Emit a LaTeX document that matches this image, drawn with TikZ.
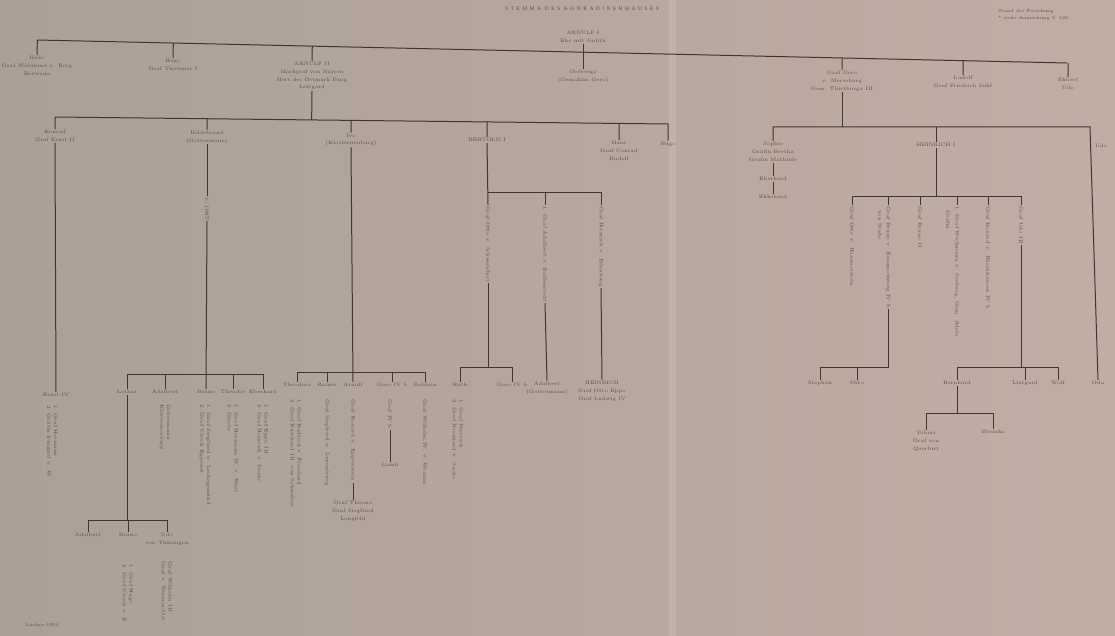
\documentclass[tikz,border=0pt]{standalone}
\usepackage{fontspec}
\usetikzlibrary{calc}
\newfontfamily\titlefont[LetterSpace=45]{Liberation Serif}
\definecolor{paperleft}{RGB}{170,160,150}
\definecolor{paperright}{RGB}{194,173,165}
\definecolor{ink}{RGB}{66,52,46}
\definecolor{inktext}{RGB}{92,78,72}
\tikzset{
  lbl/.style={inner sep=1pt, align=center, text=inktext,
    font=\fontsize{5}{7.8}\selectfont},
  vt/.style={inner sep=1pt, rotate=-90, anchor=west, align=left, text=inktext,
    font=\fontsize{5}{6.8}\selectfont},
  stem/.style={draw=ink, line width=1pt},
}
\begin{document}
\begin{tikzpicture}[x=1pt,y=-1pt]
  \useasboundingbox (0,0) rectangle (1115,636);
  % paper
  \shade[left color=paperleft, right color=paperright] (0,0) rectangle (1115,636);
  \fill[white, opacity=.12] (669,0) rectangle (676,636);
  % heading
  \node[lbl, font=\titlefont\fontsize{5.5}{8}\selectfont] (title) at (582,9) {STEMMA DES KONRADINERHAUSES};
  \node[lbl, align=left, anchor=west, font=\fontsize{4.5}{7.5}\selectfont] (note) at (997,15) {Stand der Forschung\\* siehe Anmerkung S. 126};
  \node[lbl] (root) at (583,37) {ARNULF I\\Ehe mit Judith};
  % first generation
  \coordinate (tl) at (37,40);
  \coordinate (tr) at (1067,63);
  \node[lbl] (hedo) at (37,66) {Hedo\\Graf Widukind v. Berg\\Bertrada};
  \node[lbl] (hugo) at (173,65) {Hugo\\Graf Thietmar I};
  \node[lbl] (arnulf) at (312,76) {ARNULF II\\Markgraf von Bayern\\Herr der Ostmark Burg\\Liutgard};
  \node[lbl] (heinrich) at (583,76) {Gerberga\\(Gemahlin Gero)};
  \node[lbl] (gero) at (842,81) {Graf Gero\\v. Merseburg\\Gem. Thietburga III};
  \node[lbl] (ludolf) at (963,82) {Ludolf\\Graf Friedrich Suhl};
  \node[lbl] (ekbert) at (1068,84) {Ekbert\\Udo};
  \draw[stem] (tl) -- (tr);
  \draw[stem] (root.south) -- (heinrich.north);
  \foreach \n in {hedo,hugo,arnulf,gero,ludolf,ekbert}
    \draw[stem] (\n.north) -- ($(tl)!(\n.north)!(tr)$);
  % children of Arnulf II
  \coordinate (sl) at (55,117);
  \coordinate (sr) at (668,124);
  \node[lbl] (konrad) at (55,136) {Konrad\\Graf Ernst II};
  \node[lbl] (hildebrand) at (207,137) {Hildebrand\\(Gottesmann)};
  \node[lbl] (ivo) at (351,140) {Ivo\\(Klosterneuburg)};
  \node[lbl] (bertold) at (487,140) {BERTOLD I};
  \node[lbl] (hans) at (619,151) {Hans\\Graf Conrad\\Rudolf};
  \node[lbl] (hugob) at (668,144) {Hugo};
  \draw[stem] (sl) -- (sr);
  \draw[stem] (arnulf.south) -- ($(sl)!(arnulf.south)!(sr)$);
  \foreach \n in {konrad,hildebrand,ivo,bertold,hans,hugob}
    \draw[stem] (\n.north) -- ($(sl)!(\n.north)!(sr)$);
  % line of Konrad
  \node[lbl] (ernst) at (56,395) {Ernst IV};
  \node[vt] (ernstvt) at (52,404) {1. Graf Hermann\\2. Gräfin Irmgard v. W.};
  \draw[stem] (konrad.south) -- (ernst.north);
  % line of Hildebrand
  \node[vt, fill=paperleft] (hdate) at (207,196) {v. 1087};
  \coordinate (hb) at (207,374);
  \node[lbl] (lothar) at (127,392) {Lothar};
  \node[lbl] (adalbert) at (165,392) {Adalbert};
  \node[lbl] (bruno) at (206,392) {Bruno};
  \node[lbl] (theodor) at (233,392) {Theodor};
  \node[lbl] (eberhard) at (263,392) {Eberhard};
  \draw[stem] (hildebrand.south) -- (hdate.west);
  \draw[stem] (hdate.east) -- (bruno.north);
  \draw[stem] (lothar.north) -- (lothar.north |- hb) -- (eberhard.north |- hb) -- (eberhard.north);
  \foreach \n in {adalbert,theodor}
    \draw[stem] (\n.north) -- (\n.north |- hb);
  \node[vt] at (165,403) {Gottesmann\\Klosterneuburg};
  \node[vt] at (205,403) {1. Graf Siegfried v. Lechsgemünd\\2. Graf Ulrich Eppenst.};
  \node[vt] at (233,403) {1. Graf Hermann IV. v. Werl\\2. Gisela};
  \node[vt] at (263,403) {1. Graf Eppo III\\2. Graf Heinrich v. Stade};
  % grandchildren of Hildebrand
  \coordinate (lb) at (127,520);
  \node[lbl] (adalbertb) at (88,535) {Adalbert};
  \node[lbl] (brunob) at (128,535) {Bruno};
  \node[lbl] (udo) at (167,539) {Udo\\von Thüringen};
  \draw[stem] (lothar.south) -- (lb);
  \draw[stem] (adalbertb.north) -- (adalbertb.north |- lb) -- (udo.north |- lb) -- (udo.north);
  \draw[stem] (brunob.north) -- (brunob.north |- lb);
  \node[vt] at (128,563) {1. Graf Hugo\\2. Graf Ulrich v. E.};
  \node[vt] at (167,560) {Graf Wilhelm III\\Graf v. Weimar-Orl.};
  \node[lbl, font=\fontsize{4.5}{6}\selectfont] (place) at (42,625) {Lindau 1954};
  % line of Ivo
  \coordinate (ib) at (351,372);
  \node[lbl] (theodora) at (297,385) {Theodora};
  \node[lbl] (rainer) at (327,385) {Rainer};
  \node[lbl] (arnulfb) at (353,385) {Arnulf};
  \node[lbl] (gerhard) at (392,385) {Gero IV b};
  \node[lbl] (balduin) at (425,385) {Balduin};
  \draw[stem] (ivo.south) -- (arnulfb.north);
  \draw[stem] (theodora.north) -- (theodora.north |- ib) -- (balduin.north |- ib) -- (balduin.north);
  \foreach \n in {rainer,gerhard}
    \draw[stem] (\n.north) -- (\n.north |- ib);
  \node[vt] at (296,398) {1. Graf Radbod v. Friesland\\2. Graf Burchard III. von Schwaben};
  \node[vt] at (327,398) {Graf Siegfried v. Luxemburg};
  \node[vt] (arnulfvt) at (353,398) {Graf Konrad v. Eppenstein};
  \node[lbl] (thiemo) at (353,511) {Graf Thiemo\\Graf Siegfried\\Lengfeld};
  \draw[stem] (arnulfvt.east) -- (thiemo.north);
  \node[vt] (gerhardvt) at (390,398) {Graf IV b};
  \node[lbl] (lamb) at (390,465) {Lamb};
  \draw[stem] (gerhardvt.east) -- (lamb.north);
  \node[vt] at (425,398) {Graf Wilhelm IV. v. Weimar};
  % line of Bertold
  \coordinate (bb) at (488,193);
  \coordinate (rb) at (488,367);
  \node[vt] (bertoldvt) at (488,205) {Graf Otto v. Schweinfurt};
  \node[vt] (adalbertvt) at (545,205) {1. Graf Adalbert v. Ballenstedt};
  \node[vt] (heinrichvt) at (601,205) {Graf Heinrich v. Eilenburg};
  \node[lbl] (ruth) at (460,385) {Ruth};
  \node[lbl] (gerhardb) at (512,385) {Gero IV b};
  \node[lbl] (adalbertc) at (547,388) {Adalbert\\(Gottesmann)};
  \node[lbl] (heinrichb) at (602,391) {HEINRICH\\Graf Otto Eppo\\Graf Ludwig IV};
  \draw[stem] (bertold.south) -- (bertoldvt.west);
  \draw[stem] (bb) -- (bb -| heinrichvt.west) -- (heinrichvt.west);
  \draw[stem] (adalbertvt.west) -- (adalbertvt.west |- bb);
  \draw[stem] (bertoldvt.east) -- (rb);
  \draw[stem] (adalbertvt.east) -- (adalbertc.north);
  \draw[stem] (heinrichvt.east) -- (heinrichb.north);
  \draw[stem] (ruth.north) -- (ruth.north |- rb) -- (gerhardb.north |- rb) -- (gerhardb.north);
  \node[vt] at (458,398) {1. Graf Dietrich\\2. Graf Bernhard v. Sachs.};
  % right branch
  \coordinate (rl) at (773,127);
  \coordinate (rr) at (1090,127);
  \node[lbl] (sophie) at (773,152) {Sophie\\Gräfin Bertha\\Gräfin Mathilde};
  \node[lbl] (eberhardb) at (773,179) {Eberhard};
  \node[lbl] (ekkehard) at (773,197) {Ekkehard};
  \node[lbl] (heinrichc) at (936,145) {HEINRICH I};
  \node[lbl, anchor=west] (udob) at (1094,146) {Udo};
  \node[lbl] (oda) at (1098,383) {Oda};
  \draw[stem] (gero.south) -- (gero.south |- rl);
  \draw[stem] (sophie.north) -- (rl) -- (rr) -- (oda.north);
  \draw[stem] (sophie.south) -- (eberhardb.north);
  \draw[stem] (eberhardb.south) -- (ekkehard.north);
  \draw[stem] (heinrichc.north) -- (heinrichc.north |- rl);
  % children of Heinrich I
  \coordinate (hc) at (936,197);
  \node[vt] (c1) at (852,205) {Graf Otto v. Hammerstein};
  \node[vt] (c2) at (888,205) {Graf Bruno v. Braunschweig IV b};
  \node[vt] at (880,209) {von Stade};
  \node[vt] (c3) at (920,205) {Graf Bruno II};
  \node[vt] (c4) at (957,205) {1. Graf Wichmann v. Seeburg, Gem. Adela};
  \node[vt] at (948,209) {Gräfin};
  \node[vt] (c5) at (988,205) {Graf Konrad v. Rheinhausen IV b};
  \node[vt] (c6) at (1021,205) {Graf Udo III};
  \draw[stem] (heinrichc.south) -- (hc);
  \draw[stem] (c1.west) -- (c1.west |- hc) -- (c6.west |- hc) -- (c6.west);
  \foreach \n in {c2,c3,c4,c5}
    \draw[stem] (\n.west) -- (\n.west |- hc);
  % grandchildren of Heinrich I
  \coordinate (sb) at (888,367);
  \coordinate (ub) at (1021,367);
  \node[lbl] (stephan) at (820,383) {Stephan};
  \node[lbl] (otto) at (857,383) {Otto};
  \node[lbl] (bernhard) at (957,383) {Bernhard};
  \node[lbl] (liutgard) at (1025,383) {Liutgard};
  \node[lbl] (wolf) at (1058,383) {Wolf};
  \draw[stem] (c2.east) -- (sb) -- (sb -| stephan.north) -- (stephan.north);
  \draw[stem] (otto.north) -- (otto.north |- sb);
  \draw[stem] (c6.east) -- (ub);
  \draw[stem] (bernhard.north) -- (bernhard.north |- ub) -- (wolf.north |- ub) -- (wolf.north);
  \draw[stem] (liutgard.north) -- (liutgard.north |- ub);
  \coordinate (tb) at (957,413);
  \node[lbl] (tobias) at (926,441) {Tobias\\Graf von\\Querfurt};
  \node[lbl] (mieszko) at (993,432) {Mieszko};
  \draw[stem] (bernhard.south) -- (tb);
  \draw[stem] (tobias.north) -- (tobias.north |- tb) -- (mieszko.north |- tb) -- (mieszko.north);
\end{tikzpicture}
\end{document}
